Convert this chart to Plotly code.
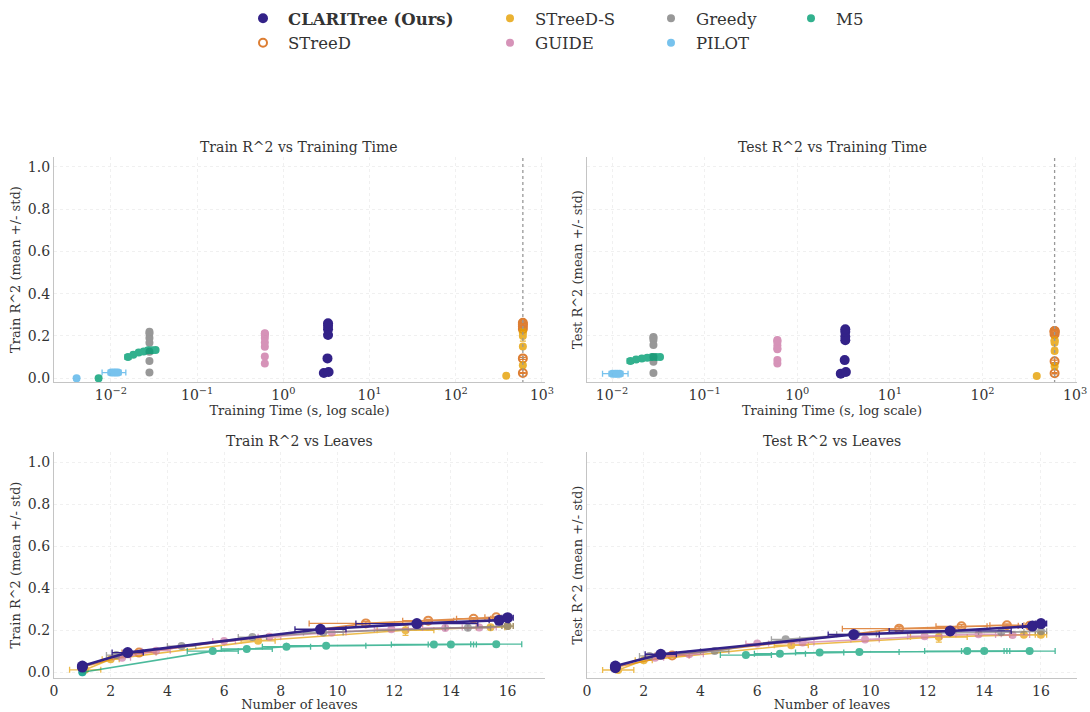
import plotly.graph_objects as go

FONT = "DejaVu Serif"
TEXT = "#333333"
W, H = 1090, 712

TIME_LIMIT = 600

# ---- per-configuration results (mean / std over folds) ----
clari_time = [2.95, 3.35, 3.25, 3.30, 3.30, 3.30, 3.30]
clari_time_std = [0.08, 0.08, 0.08, 0.08, 0.08, 0.08, 0.08]
clari_leaves = [1.0, 1.0, 2.6, 9.4, 12.8, 15.7, 16.0]
clari_leaves_std = [0.0, 0.0, 0.55, 0.9, 2.15, 0.35, 0.2]
clari_train = [0.025, 0.030, 0.094, 0.205, 0.232, 0.248, 0.260]
clari_train_std = [0.003, 0.003, 0.004, 0.005, 0.006, 0.004, 0.004]
clari_test = [0.022, 0.030, 0.086, 0.180, 0.197, 0.220, 0.232]
clari_test_std = [0.004, 0.004, 0.005, 0.006, 0.006, 0.005, 0.005]

streed_time = [600, 600, 600, 600, 600, 600]
streed_time_std = [0, 0, 0, 0, 0, 0]
streed_leaves = [1.0, 3.0, 11.0, 13.2, 14.8, 15.6]
streed_leaves_std = [0.0, 0.6, 2.0, 0.9, 0.6, 0.4]
streed_train = [0.025, 0.094, 0.233, 0.246, 0.255, 0.262]
streed_train_std = [0.002, 0.005, 0.008, 0.006, 0.005, 0.004]
streed_test = [0.024, 0.080, 0.208, 0.219, 0.224, 0.222]
streed_test_std = [0.003, 0.006, 0.009, 0.008, 0.006, 0.005]

streeds_time = [385, 600, 600, 600, 600, 600]
streeds_time_std = [5, 0, 0, 0, 0, 0]
streeds_leaves = [1.1, 2.0, 7.2, 12.4, 15.4, 16.0]
streeds_leaves_std = [0.55, 0.3, 0.6, 1.0, 0.5, 0.2]
streeds_train = [0.012, 0.062, 0.150, 0.200, 0.215, 0.220]
streeds_train_std = [0.004, 0.006, 0.008, 0.024, 0.008, 0.006]
streeds_test = [0.011, 0.057, 0.129, 0.168, 0.179, 0.179]
streeds_test_std = [0.005, 0.006, 0.010, 0.024, 0.008, 0.006]

guide_time = [0.61, 0.61, 0.61, 0.61, 0.61, 0.61, 0.61, 0.61]
guide_time_std = [0.02, 0.02, 0.02, 0.02, 0.02, 0.02, 0.02, 0.02]
guide_leaves = [2.4, 3.6, 6.0, 7.6, 9.8, 11.9, 13.8, 15.0]
guide_leaves_std = [0.3, 0.5, 0.4, 0.4, 0.5, 0.6, 0.8, 0.6]
guide_train = [0.070, 0.103, 0.149, 0.169, 0.190, 0.205, 0.211, 0.213]
guide_train_std = [0.004, 0.005, 0.005, 0.006, 0.006, 0.006, 0.006, 0.006]
guide_test = [0.070, 0.086, 0.137, 0.142, 0.156, 0.172, 0.181, 0.178]
guide_test_std = [0.005, 0.006, 0.007, 0.007, 0.007, 0.007, 0.007, 0.007]

greedy_time = [0.028, 0.028, 0.028, 0.028, 0.028, 0.028, 0.028]
greedy_time_std = [0.001, 0.001, 0.001, 0.001, 0.001, 0.001, 0.001]
greedy_leaves = [1.0, 2.2, 4.5, 7.0, 9.5, 14.6, 16.0]
greedy_leaves_std = [0.0, 0.35, 0.5, 0.5, 0.7, 0.8, 0.2]
greedy_train = [0.027, 0.082, 0.125, 0.168, 0.190, 0.212, 0.220]
greedy_train_std = [0.003, 0.004, 0.005, 0.005, 0.005, 0.005, 0.005]
greedy_test = [0.025, 0.078, 0.101, 0.157, 0.181, 0.192, 0.195]
greedy_test_std = [0.004, 0.005, 0.006, 0.006, 0.006, 0.006, 0.006]

pilot_time = [0.0040, 0.0101, 0.0108, 0.0114, 0.0121]
pilot_time_std = [0.0002, 0.0008, 0.0010, 0.0035, 0.0010]
pilot_leaves = [1.0, 1.0, 1.0, 1.0, 1.0]
pilot_leaves_std = [0.0, 0.0, 0.0, 0.0, 0.0]
pilot_train = [0.000, 0.027, 0.027, 0.027, 0.027]
pilot_train_std = [0.0, 0.003, 0.003, 0.003, 0.003]
pilot_test = [None, 0.022, 0.022, 0.022, 0.022]
pilot_test_std = [None, 0.004, 0.004, 0.004, 0.004]

m5_time = [0.0072, 0.0158, 0.0182, 0.0210, 0.0240, 0.0270, 0.0300, 0.0330]
m5_time_std = [0.0003, 0.0012, 0.0010, 0.0012, 0.0012, 0.0015, 0.0015, 0.0015]
m5_leaves = [1.0, 5.6, 6.8, 8.2, 9.6, 13.4, 14.0, 15.6]
m5_leaves_std = [0.0, 0.9, 0.9, 0.85, 1.4, 1.5, 0.8, 0.9]
m5_train = [0.000, 0.101, 0.111, 0.122, 0.127, 0.133, 0.133, 0.134]
m5_train_std = [0.0, 0.004, 0.004, 0.004, 0.004, 0.004, 0.004, 0.004]
m5_test = [None, 0.082, 0.089, 0.094, 0.097, 0.101, 0.101, 0.101]
m5_test_std = [None, 0.005, 0.005, 0.005, 0.005, 0.005, 0.005, 0.005]

# name, colour, open marker?, legend column, rank, results
methods = [
    ("STreeD", "#D55E00", True, "legend", 2,
     (streed_time, streed_time_std, streed_leaves, streed_leaves_std,
      streed_train, streed_train_std, streed_test, streed_test_std)),
    ("STreeD-S", "#E69F00", False, "legend2", 1,
     (streeds_time, streeds_time_std, streeds_leaves, streeds_leaves_std,
      streeds_train, streeds_train_std, streeds_test, streeds_test_std)),
    ("GUIDE", "#CC79A7", False, "legend2", 2,
     (guide_time, guide_time_std, guide_leaves, guide_leaves_std,
      guide_train, guide_train_std, guide_test, guide_test_std)),
    ("Greedy", "#7F7F7F", False, "legend3", 1,
     (greedy_time, greedy_time_std, greedy_leaves, greedy_leaves_std,
      greedy_train, greedy_train_std, greedy_test, greedy_test_std)),
    ("PILOT", "#56B4E9", False, "legend3", 2,
     (pilot_time, pilot_time_std, pilot_leaves, pilot_leaves_std,
      pilot_train, pilot_train_std, pilot_test, pilot_test_std)),
    ("M5", "#009E73", False, "legend4", 1,
     (m5_time, m5_time_std, m5_leaves, m5_leaves_std,
      m5_train, m5_train_std, m5_test, m5_test_std)),
    ("<b>CLARITree (Ours)</b>", "#332288", False, "legend", 1,
     (clari_time, clari_time_std, clari_leaves, clari_leaves_std,
      clari_train, clari_train_std, clari_test, clari_test_std)),
]

fig = go.Figure()

for name, color, hollow, leg, rank, res in methods:
    t, t_sd, lv, lv_sd, tr, tr_sd, te, te_sd = res
    ours = "CLARITree" in name
    msize_top = 10 if ours else 8
    msize_bot = 11 if ours else 8
    alpha = 1.0 if ours else 0.8
    marker_top = dict(
        color=color, size=msize_top,
        symbol="circle-open" if hollow else "circle",
        line=dict(width=2 if hollow else 0, color=color),
    )
    marker_bot = dict(marker_top, size=msize_bot)
    err = dict(type="data", color=color, thickness=1.3, width=3, visible=True)

    # time panels
    for k, (yy, ysd) in enumerate([(tr, tr_sd), (te, te_sd)]):
        ax = "" if k == 0 else "2"
        fig.add_trace(go.Scatter(
            x=t, y=yy, mode="markers", name=name, marker=marker_top,
            opacity=alpha,
            error_x=dict(err, array=t_sd), error_y=dict(err, array=ysd),
            xaxis="x" + ax, yaxis="y" + ax,
            showlegend=(k == 0), legend=leg, legendrank=rank,
            hoverinfo="skip",
        ))
    # leaves panels
    for k, (yy, ysd) in enumerate([(tr, tr_sd), (te, te_sd)]):
        ax = "3" if k == 0 else "4"
        pts = [(a, b, c, d) for a, b, c, d in zip(lv, lv_sd, yy, ysd) if c is not None]
        pts.sort(key=lambda p: p[0])
        fig.add_trace(go.Scatter(
            x=[p[0] for p in pts], y=[p[2] for p in pts],
            mode="lines+markers", name=name, marker=marker_bot,
            line=dict(color=color, width=2.6 if ours else 1.6),
            opacity=1.0 if ours else 0.7,
            error_x=dict(err, array=[p[1] for p in pts]),
            error_y=dict(err, array=[p[3] for p in pts]),
            xaxis="x" + ax, yaxis="y" + ax, showlegend=False,
            hoverinfo="skip",
        ))

# time-limit marker on the time panels
for ax in ["", "2"]:
    fig.add_trace(go.Scatter(
        x=[TIME_LIMIT, TIME_LIMIT], y=[-0.05, 1.1], mode="lines",
        line=dict(color="#999999", width=1.3, dash="dot"),
        xaxis="x" + ax, yaxis="y" + ax, showlegend=False, hoverinfo="skip",
    ))


def px_x(p):
    return p / W


def px_y(p):
    return 1 - p / H


axis_common = dict(
    showline=True, linecolor="#c4c4c4", linewidth=1.3, mirror=False,
    showgrid=True, gridcolor="#f0f0f0", griddash="dot", gridwidth=1,
    zeroline=False, ticks="", automargin=False,
    tickfont=dict(family=FONT, size=14, color=TEXT),
    title_font=dict(family=FONT, size=13, color=TEXT),
)

log_vals = [0.01, 0.1, 1, 10, 100, 1000]
log_text = ["10<sup>−2</sup>", "10<sup>−1</sup>", "10<sup>0</sup>",
            "10<sup>1</sup>", "10<sup>2</sup>", "10<sup>3</sup>"]
r2_vals = [0.0, 0.2, 0.4, 0.6, 0.8, 1.0]
leaf_vals = [0, 2, 4, 6, 8, 10, 12, 14, 16]

top_dom = [px_y(382), px_y(157)]
bot_dom = [px_y(678), px_y(452)]
left_dom = [px_x(54), px_x(545)]
right_dom = [px_x(587), px_x(1077)]

fig.update_layout(
    width=W, height=H,
    margin=dict(l=0, r=0, t=0, b=0),
    paper_bgcolor="white", plot_bgcolor="white",
    font=dict(family=FONT, color=TEXT),
    xaxis=dict(axis_common, type="log", domain=left_dom, range=[-2.66, 3.035],
               tickvals=log_vals, ticktext=log_text, anchor="y",
               title=dict(text="Training Time (s, log scale)", standoff=3)),
    yaxis=dict(axis_common, domain=top_dom, range=[-0.0175, 1.046],
               tickvals=r2_vals, tickformat=".1f", anchor="x",
               title=dict(text="Train R^2 (mean +/- std)", standoff=4)),
    xaxis2=dict(axis_common, type="log", domain=right_dom, range=[-2.27, 3.02],
                tickvals=log_vals, ticktext=log_text, anchor="y2",
                title=dict(text="Training Time (s, log scale)", standoff=3)),
    yaxis2=dict(axis_common, domain=top_dom, range=[-0.0175, 1.046],
                tickvals=r2_vals, showticklabels=False, anchor="x2",
                title=dict(text="Test R^2 (mean +/- std)", standoff=0)),
    xaxis3=dict(axis_common, domain=left_dom, range=[0, 17.32],
                tickvals=leaf_vals, anchor="y3",
                title=dict(text="Number of leaves", standoff=2)),
    yaxis3=dict(axis_common, domain=bot_dom, range=[-0.027, 1.049],
                tickvals=r2_vals, tickformat=".1f", anchor="x3",
                title=dict(text="Train R^2 (mean +/- std)", standoff=4)),
    xaxis4=dict(axis_common, domain=right_dom, range=[0, 17.27],
                tickvals=leaf_vals, anchor="y4",
                title=dict(text="Number of leaves", standoff=2)),
    yaxis4=dict(axis_common, domain=bot_dom, range=[-0.027, 1.049],
                tickvals=r2_vals, showticklabels=False, anchor="x4",
                title=dict(text="Test R^2 (mean +/- std)", standoff=0)),
)

# one legend per column
legend_common = dict(
    orientation="v", xanchor="left", yanchor="top", y=px_y(1),
    bgcolor="rgba(0,0,0,0)", borderwidth=0, itemwidth=40,
    tracegroupgap=0, font=dict(family=FONT, size=16.5, color=TEXT),
)
fig.update_layout(
    legend=dict(legend_common, x=px_x(238)),
    legend2=dict(legend_common, x=px_x(485)),
    legend3=dict(legend_common, x=px_x(646)),
    legend4=dict(legend_common, x=px_x(786)),
)

# panel titles
titles = [
    ("Train R^2 vs Training Time", (54 + 545) / 2, 147),
    ("Test R^2 vs Training Time", (587 + 1077) / 2, 147),
    ("Train R^2 vs Leaves", (54 + 545) / 2, 441),
    ("Test R^2 vs Leaves", (587 + 1077) / 2, 441),
]
for text, cx, cy in titles:
    fig.add_annotation(
        text=text, x=px_x(cx), y=px_y(cy), xref="paper", yref="paper",
        xanchor="center", yanchor="middle", showarrow=False,
        font=dict(family=FONT, size=14, color=TEXT),
    )

fig.write_html("out.html")
